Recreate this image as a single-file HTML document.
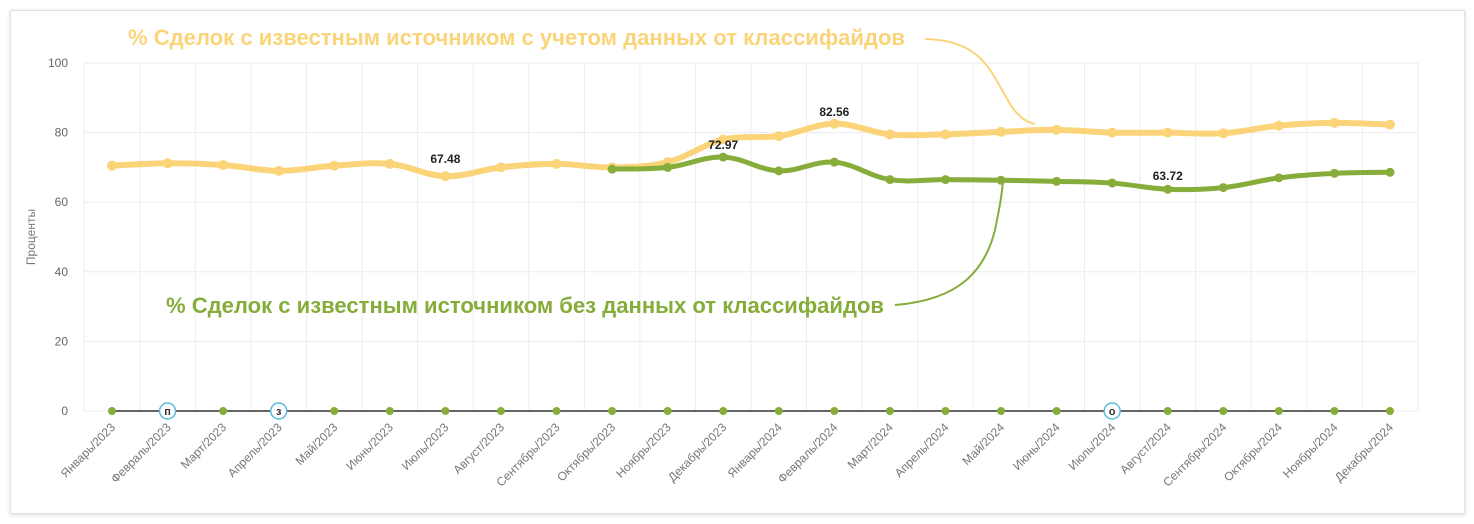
<!DOCTYPE html><html><head><meta charset="utf-8"><style>
body{margin:0;background:#fff;width:1474px;height:524px;overflow:hidden;font-family:"Liberation Sans",sans-serif}
#card{position:absolute;left:10px;top:10px;width:1453px;height:502px;border:1px solid #e2e2e2;box-shadow:0 1px 4px rgba(0,0,0,.15);background:#fff}
</style></head><body><div id="card"></div>
<svg id="s" width="1474" height="524" style="position:absolute;left:0;top:0" font-family="Liberation Sans, sans-serif"></svg>
<script>
const s=document.getElementById('s');let h='';
const X=i=>112+i*55.565, Y=v=>411-v*3.48;
for(let v=0;v<=100;v+=20){h+=`<line x1="84" x2="1418" y1="${Y(v)}" y2="${Y(v)}" stroke="#ececec"/>`;h+=`<text x="68" y="${Y(v)+4}" font-size="12" fill="#666" text-anchor="end">${v}</text>`;}
for(let k=0;k<=24;k++){const x=84.2+k*55.57;h+=`<line x1="${x}" x2="${x}" y1="63" y2="411" stroke="#ececec"/>`;}
h+=`<text transform="translate(35,237) rotate(-90)" font-size="12" fill="#777" text-anchor="middle">Проценты</text>`;
const m=['Январь','Февраль','Март','Апрель','Май','Июнь','Июль','Август','Сентябрь','Октябрь','Ноябрь','Декабрь'];
for(let i=0;i<24;i++){const l=m[i%12]+'/'+(i<12?2023:2024);h+=`<text transform="translate(${X(i)+4},428) rotate(-45)" font-size="12" fill="#777" text-anchor="end">${l}</text>`;}
function path(pts){let d=`M${pts[0][0]},${pts[0][1]}`;for(let i=0;i<pts.length-1;i++){const p0=pts[i-1]||pts[i],p1=pts[i],p2=pts[i+1],p3=pts[i+2]||p2;const t=0.18;d+=` C${p1[0]+(p2[0]-p0[0])*t},${p1[1]+(p2[1]-p0[1])*t} ${p2[0]-(p3[0]-p1[0])*t},${p2[1]-(p3[1]-p1[1])*t} ${p2[0]},${p2[1]}`;}return d;}
const yv=[70.5,71.2,70.7,69,70.5,71,67.48,70,71,70,71.5,78,79,82.56,79.5,79.5,80.2,80.8,80,80,79.8,82,82.8,82.3];
const gv=[69.5,70,72.97,69,71.5,66.5,66.5,66.3,66,65.5,63.72,64.2,67,68.3,68.6];
const yp=yv.map((v,i)=>[X(i),Y(v)]),gp=gv.map((v,i)=>[X(i+9),Y(v)]);
h+=`<path d="${path(yp)}" fill="none" stroke="#fbd479" stroke-width="6" stroke-linecap="round"/>`;
yp.forEach(p=>h+=`<circle cx="${p[0]}" cy="${p[1]}" r="5" fill="#fbd479"/>`);
h+=`<path d="${path(gp)}" fill="none" stroke="#86ad3a" stroke-width="5" stroke-linecap="round"/>`;
gp.forEach(p=>h+=`<circle cx="${p[0]}" cy="${p[1]}" r="4.5" fill="#86ad3a"/>`);
h+=`<line x1="${X(0)}" x2="${X(23)}" y1="411" y2="411" stroke="#666" stroke-width="2"/>`;
const mk={1:'п',3:'з',18:'о'};
for(let i=0;i<24;i++){if(mk[i])h+=`<circle cx="${X(i)}" cy="411" r="8" fill="#fff" stroke="#5bb8e0" stroke-width="1.5"/><text x="${X(i)}" y="415" font-size="11" font-weight="bold" text-anchor="middle" fill="#333">${mk[i]}</text>`;else h+=`<circle cx="${X(i)}" cy="411" r="4" fill="#86ad3a"/>`;}
[[X(6),163,'67.48'],[X(11),149,'72.97'],[X(13),116,'82.56'],[X(19),180,'63.72']].forEach(a=>h+=`<text x="${a[0]}" y="${a[1]}" font-size="12" font-weight="bold" text-anchor="middle" fill="#222">${a[2]}</text>`);
h+=`<text x="128" y="45" font-size="22" font-weight="bold" fill="#fbd479" textLength="777" lengthAdjust="spacingAndGlyphs">% Сделок с известным источником с учетом данных от классифайдов</text>`;
h+=`<path d="M925,39 C980,40 990,70 1005,95 C1015,115 1025,122 1035,124" fill="none" stroke="#fbd479" stroke-width="2"/>`;
h+=`<text x="166" y="313" font-size="22" font-weight="bold" fill="#86ad3a" textLength="718" lengthAdjust="spacingAndGlyphs">% Сделок с известным источником без данных от классифайдов</text>`;
h+=`<path d="M895,305 C960,300 985,270 995,230 C1000,205 1002,195 1003,180" fill="none" stroke="#86ad3a" stroke-width="2"/>`;
s.innerHTML=h;
</script></body></html>
